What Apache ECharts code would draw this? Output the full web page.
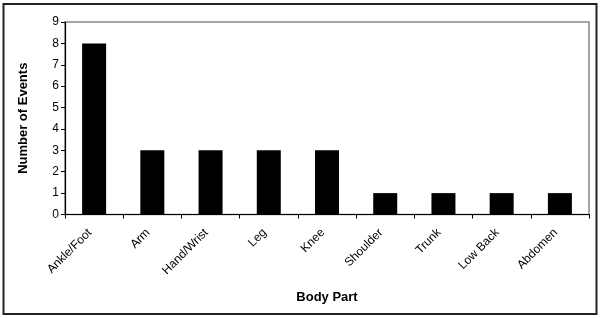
<!DOCTYPE html>
<html>
<head>
<meta charset="utf-8">
<script src="https://cdn.jsdelivr.net/npm/echarts@6/dist/echarts.min.js"></script>
<style>
html,body{margin:0;padding:0;background:#fff;}
#c{width:600px;height:318px;}
</style>
</head>
<body>
<div id="c"></div>
<script>
var categories = ['Ankle/Foot','Arm','Hand/Wrist','Leg','Knee','Shoulder','Trunk','Low Back','Abdomen'];
var events = [8,3,3,3,3,1,1,1,1];
var yTitle = 'Number of Events';
var xTitle = 'Body Part';

var chart = echarts.init(document.getElementById('c'), null, {renderer:'canvas'});
var font = 'Liberation Sans, Arial, sans-serif';
chart.setOption({
  animation:false,
  backgroundColor:'#fff',
  grid:{left:65,right:11,top:22,bottom:103.5,show:true,borderColor:'#888',borderWidth:1.5,backgroundColor:'transparent'},
  graphic:[{type:'rect',shape:{x:3.5,y:4,width:593,height:310},style:{fill:'none',stroke:'#222',lineWidth:2},z:100}],
  xAxis:{
    type:'category',data:categories,
    name:xTitle,nameLocation:'middle',nameGap:76,
    nameTextStyle:{fontFamily:font,fontWeight:'bold',fontSize:13,color:'#000'},
    axisLine:{lineStyle:{color:'#000',width:1.2}},
    axisTick:{show:true,length:4,alignWithLabel:false,lineStyle:{color:'#000'}},
    axisLabel:{rotate:45,margin:12,padding:[0,6,0,0],fontFamily:font,fontSize:12,color:'#000',interval:0}
  },
  yAxis:{
    type:'value',min:0,max:9,interval:1,
    name:yTitle,nameLocation:'middle',nameGap:35,
    nameTextStyle:{fontFamily:font,fontWeight:'bold',fontSize:13,color:'#000'},
    axisLine:{show:true,lineStyle:{color:'#000',width:1.2}},
    axisTick:{show:true,length:4,lineStyle:{color:'#000'}},
    axisLabel:{fontFamily:font,fontSize:12,color:'#000',margin:6},
    splitLine:{show:false}
  },
  series:[{type:'bar',data:events,barWidth:24,itemStyle:{color:'#000'}}]
});
</script>
</body>
</html>
